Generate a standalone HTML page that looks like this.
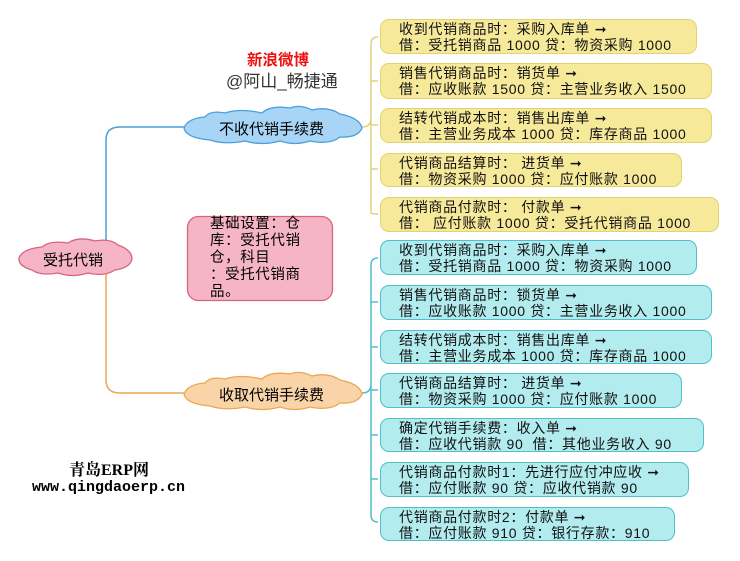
<!DOCTYPE html>
<html><head><meta charset="utf-8"><style>
body{margin:0;width:740px;height:561px;background:#fff;position:relative;overflow:hidden;font-family:"Liberation Sans","Noto Sans CJK SC",sans-serif;}
.b{position:absolute;left:380px;border-radius:9px;box-sizing:border-box;font-size:14px;letter-spacing:0.7px;line-height:16px;padding:1px 0 0 18px;color:#111;white-space:nowrap;}
.y{background:#f6e99a;border:1.5px solid #e2d271;}
.c{background:#b2ecef;border:1.5px solid #4fbfc8;}
.t{position:absolute;white-space:nowrap;}
</style></head><body>
<svg width="740" height="561" style="position:absolute;left:0;top:0">
<path d="M106,240 L106,140 Q106,127 120,127 L185,127" stroke="#4a9fdc" stroke-width="1.5" fill="none"/>
<path d="M106,272 L106,380 Q106,393 120,393 L185,393" stroke="#eea652" stroke-width="1.5" fill="none"/>
<path d="M362,127 Q371,127 371,118 L371,44 Q371,37 378,37 M371,44 L371,213 Q371,214 378,214 M371,81 Q371,81 378,81 M371,125 L378,125 M371,169 L378,169" stroke="#e0d27a" stroke-width="1.5" fill="none"/>
<path d="M362,393 Q371,393 371,384 L371,265 Q371,258 378,258 M371,265 L371,515 Q371,522 378,522 M371,302 L378,302 M371,347 L378,347 M371,390 L378,390 M371,435 L378,435 M371,479 L378,479" stroke="#4fbfc8" stroke-width="1.5" fill="none"/>
<path d="M184,128 Q188,118 205,117 Q210,110 225,113 Q240,108 262,113 Q270,105 290,108 Q300,104 312,110 Q328,106 340,114 Q360,118 362,128 Q358,138 340,137 Q330,145 310,141 Q295,146 280,141 Q262,146 245,141 Q225,145 210,140 Q186,138 184,128Z" fill="#a8d4f5" stroke="#4a9fdc" stroke-width="1.3"/>
<path d="M184,394 Q188,384 205,383 Q210,376 225,379 Q240,374 262,379 Q270,371 290,374 Q300,370 312,376 Q328,372 340,380 Q360,384 362,394 Q358,404 340,403 Q330,411 310,407 Q295,412 280,407 Q262,412 245,407 Q225,411 210,406 Q186,404 184,394Z" fill="#f9d4a8" stroke="#eea652" stroke-width="1.3"/>
<path d="M19,258 Q22,249 42,247 Q50,240 68,243 Q78,236 95,241 Q110,238 118,245 Q132,250 132,259 Q130,268 115,270 Q104,277 88,273 Q72,278 58,273 Q40,276 32,270 Q18,266 19,258Z" fill="#f5b5c6" stroke="#d9637f" stroke-width="1.3"/>
<rect x="187.5" y="216.5" width="145" height="84" rx="11" fill="#f5b5c6" stroke="#d9637f" stroke-width="1.3"/>
</svg>
<div class="t" style="left:219px;top:118px;font-size:15px;">不收代销手续费</div>
<div class="t" style="left:219px;top:384px;font-size:15px;">收取代销手续费</div>
<div class="t" style="left:43px;top:249px;font-size:15px;">受托代销</div>
<div class="t" style="left:210px;top:216px;font-size:14.5px;letter-spacing:0.6px;line-height:17px;white-space:normal;width:100px;">基础设置：仓库：受托代销仓，科目<br>：受托代销商品。</div>
<div class="t" style="left:247px;top:48px;font-size:15.5px;font-weight:bold;color:#ee1111;">新浪微博</div>
<div class="t" style="left:226px;top:67px;font-size:17px;color:#333;">@阿山_畅捷通</div>
<div class="t" style="left:69px;top:457px;font-size:16px;font-weight:bold;font-family:'Liberation Serif','Noto Serif CJK SC',serif;">青岛ERP网</div>
<div class="t" style="left:32px;top:479px;font-size:15px;font-weight:bold;font-family:'Liberation Mono',monospace;">www.qingdaoerp.cn</div>

<div class="b y" style="top:19px;width:317px;height:35px;">收到代销商品时：采购入库单 ➞<br>借：受托销商品 1000 贷：物资采购 1000</div>
<div class="b y" style="top:63px;width:332px;height:36px;">销售代销商品时：销货单 ➞<br>借：应收账款 1500 贷：主营业务收入 1500</div>
<div class="b y" style="top:108px;width:332px;height:35px;">结转代销成本时：销售出库单 ➞<br>借：主营业务成本 1000 贷：库存商品 1000</div>
<div class="b y" style="top:153px;width:302px;height:34px;">代销商品结算时：&nbsp;进货单 ➞<br>借：物资采购 1000 贷：应付账款 1000</div>
<div class="b y" style="top:197px;width:339px;height:35px;">代销商品付款时：&nbsp;付款单 ➞<br>借：&nbsp;应付账款 1000 贷：受托代销商品 1000</div>

<div class="b c" style="top:240px;width:317px;height:35px;">收到代销商品时：采购入库单 ➞<br>借：受托销商品 1000 贷：物资采购 1000</div>
<div class="b c" style="top:285px;width:332px;height:35px;">销售代销商品时：锁货单 ➞<br>借：应收账款 1000 贷：主营业务收入 1000</div>
<div class="b c" style="top:330px;width:332px;height:34px;">结转代销成本时：销售出库单 ➞<br>借：主营业务成本 1000 贷：库存商品 1000</div>
<div class="b c" style="top:373px;width:302px;height:35px;">代销商品结算时：&nbsp;进货单 ➞<br>借：物资采购 1000 贷：应付账款 1000</div>
<div class="b c" style="top:418px;width:324px;height:34px;">确定代销手续费：收入单 ➞<br>借：应收代销款 90&nbsp;&nbsp;借：其他业务收入 90</div>
<div class="b c" style="top:462px;width:309px;height:35px;">代销商品付款时1：先进行应付冲应收 ➞<br>借：应付账款 90 贷：应收代销款 90</div>
<div class="b c" style="top:507px;width:295px;height:34px;">代销商品付款时2：付款单 ➞<br>借：应付账款 910 贷：银行存款：910</div>
</body></html>
